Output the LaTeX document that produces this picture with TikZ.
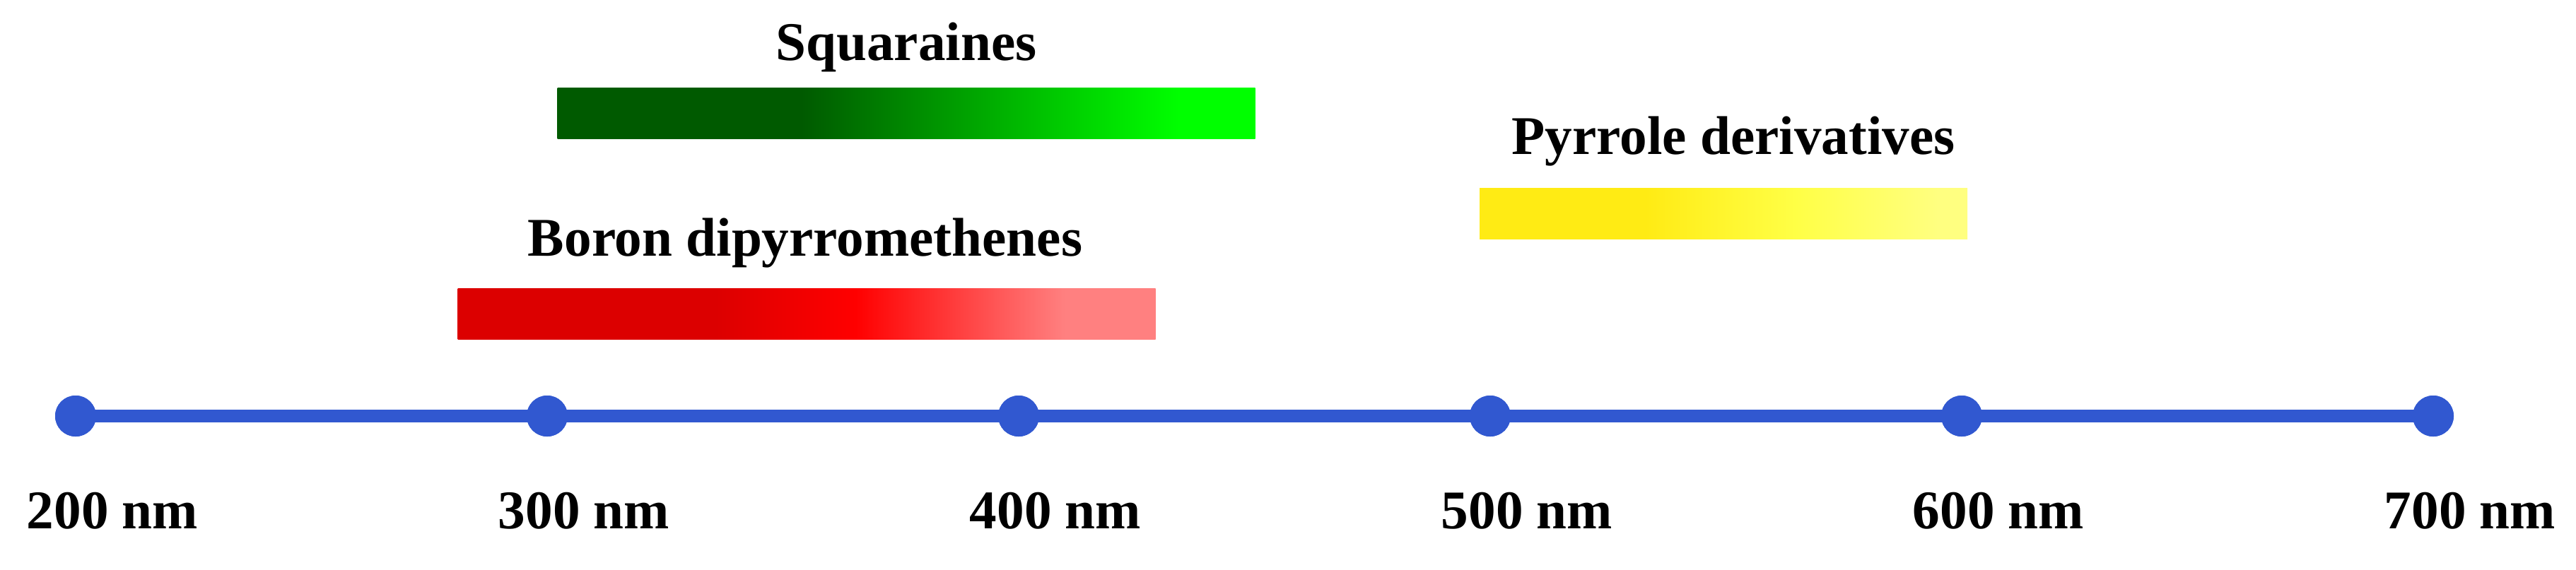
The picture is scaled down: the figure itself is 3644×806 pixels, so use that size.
\documentclass[tikz,border=0pt]{standalone}
\usepackage{fontspec}
\setmainfont{Liberation Serif}
\definecolor{axisblue}{RGB}{49,88,208}
\definecolor{gA}{RGB}{0,90,0}
\definecolor{gB}{RGB}{0,255,0}
\definecolor{rA}{RGB}{220,0,0}
\definecolor{rB}{RGB}{255,0,0}
\definecolor{rC}{RGB}{255,128,128}
\definecolor{yA}{RGB}{255,235,20}
\definecolor{yB}{RGB}{255,255,70}
\definecolor{yC}{RGB}{255,255,128}
\pgfdeclarehorizontalshading{greenbar}{100bp}{color(0bp)=(gA); color(42.5bp)=(gA); color(69.5bp)=(gB); color(100bp)=(gB)}
\pgfdeclarehorizontalshading{redbar}{100bp}{color(0bp)=(rA); color(43.5bp)=(rA); color(53.5bp)=(rB); color(68.5bp)=(rC); color(100bp)=(rC)}
\pgfdeclarehorizontalshading{yellowbar}{100bp}{color(0bp)=(yA); color(42bp)=(yA); color(57.5bp)=(yB); color(72bp)=(yC); color(100bp)=(yC)}
\tikzset{
  dot/.style={circle, fill=axisblue, inner sep=0pt, minimum size={58*0.25pt}},
  axisline/.style={draw=axisblue, line width={18*0.25pt}},
  lab/.style={anchor=base, inner sep=0pt, font=\bfseries\fontsize{19.3}{22}\selectfont},
  bar/.style={rectangle, inner sep=0pt, minimum height={72*0.25pt}},
}
\begin{document}
\begin{tikzpicture}[x=0.25pt, y=-0.25pt]
\useasboundingbox (0,0) rectangle (3644,806);
% bars
\node[bar, minimum width={987*0.25pt}, shading=greenbar] (sqbar) at (1282,160) {};
\node[bar, minimum width={987*0.25pt}, shading=redbar] (bdbar) at (1141,444) {};
\node[bar, minimum width={690*0.25pt}, shading=yellowbar] (pybar) at (2438,302) {};
% bar labels
\node[lab] (sqlab) at (1282,85) {Squaraines};
\node[lab] (bdlab) at (1139,362) {Boron dipyrromethenes};
\node[lab] (pylab) at (2452,218) {Pyrrole derivatives};
% axis dots
\node[dot] (d200) at (107,589) {};
\node[dot] (d300) at (774,589) {};
\node[dot] (d400) at (1441,589) {};
\node[dot] (d500) at (2108,589) {};
\node[dot] (d600) at (2775,589) {};
\node[dot] (d700) at (3442,589) {};
\draw[axisline] (d200.center) -- (d700.center);
\foreach \n in {d200,d300,d400,d500,d600,d700} \node[dot] at (\n) {};
% axis labels
\node[lab] (l200) at (159,748) {200 nm};
\node[lab] (l300) at (826,748) {300 nm};
\node[lab] (l400) at (1493,748) {400 nm};
\node[lab] (l500) at (2160,748) {500 nm};
\node[lab] (l600) at (2827,748) {600 nm};
\node[lab] (l700) at (3494,748) {700 nm};
\end{tikzpicture}
\end{document}
